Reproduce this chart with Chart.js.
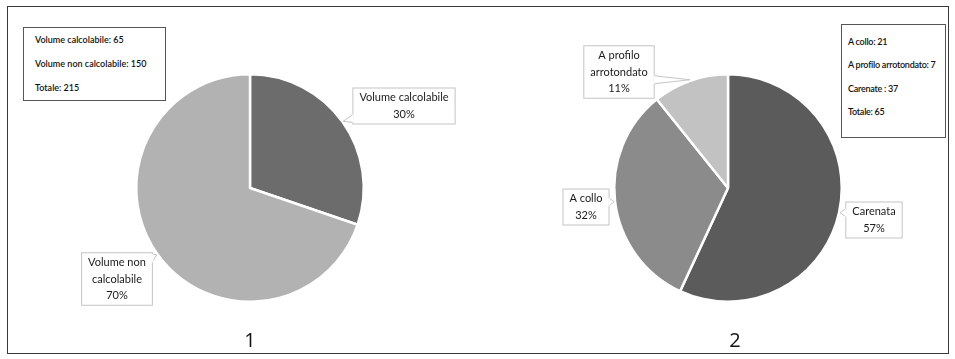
<!DOCTYPE html>
<html><head><meta charset="utf-8">
<script src="https://cdn.jsdelivr.net/npm/chart.js@4/dist/chart.umd.min.js"></script>
<style>
html,body{margin:0;padding:0;background:#fff;}
#wrap{position:relative;width:955px;height:359px;overflow:hidden;font-family:Lato,"Open Sans",sans-serif;}
#frame{position:absolute;left:7px;top:6px;width:940px;height:346px;border:1.5px solid #3a3a3a;}
canvas{position:absolute;left:0;top:0;}
.info{position:absolute;border:1.5px solid #555;background:#fff;font-size:9px;color:#111;font-weight:600;}
.info div{position:absolute;left:11px;white-space:nowrap;}
#info2 div{left:6px;letter-spacing:-0.25px;}
.num{position:absolute;font-size:20px;color:#111;transform:translateX(-50%);top:326px;font-family:"Open Sans",Lato,sans-serif;}
</style></head>
<body><div id="wrap">
<div id="frame"></div>
<canvas id="c1" width="955" height="359"></canvas>
<canvas id="c2" width="955" height="359"></canvas>
<div class="info" id="info1" style="left:23px;top:27px;width:141px;height:72px;"></div>
<div class="info" id="info2" style="left:841px;top:24px;width:103px;height:112px;"></div>
<div class="num" style="left:250px;">1</div>
<div class="num" style="left:735px;">2</div>
</div>
<script>
// ---- data ----
const categories1 = ["Volume calcolabile", "Volume non calcolabile"];
const labelLines1 = ["Volume calcolabile", "Volume non\ncalcolabile"];
const values1 = [65, 150];
const colors1 = ["#6c6c6c", "#b2b2b2"];

const categories2 = ["Carenata", "A collo", "A profilo arrotondato"];
const labelLines2 = ["Carenata", "A collo", "A profilo\narrotondato"];
const values2 = [37, 21, 7];
const colors2 = ["#5b5b5b", "#8b8b8b", "#c2c2c2"];

const summaryLabels1 = ["Volume calcolabile", "Volume non calcolabile"];
const summaryValues1 = [65, 150];
const summaryLabels2 = ["A collo", "A profilo arrotondato", "Carenate "];
const summaryValues2 = [21, 7, 37];
const totalLabel = "Totale";

// ---- info boxes ----
function fillInfo(id, labels, vals, spacing, top0){
  const el = document.getElementById(id);
  const rows = labels.map((l,i)=> l + ": " + vals[i]);
  rows.push(totalLabel + ": " + vals.reduce((a,b)=>a+b,0));
  rows.forEach((r,i)=>{
    const d = document.createElement('div');
    d.textContent = r; d.style.top = (top0 + i*spacing) + 'px';
    el.appendChild(d);
  });
}
fillInfo('info1', summaryLabels1, summaryValues1, 24, 6);
fillInfo('info2', summaryLabels2, summaryValues2, 23.3, 11);

// ---- callout plugin ----
const calloutPlugin = {
  id: 'callouts',
  afterDatasetsDraw(chart, args, opts){
    const ctx = chart.ctx;
    const meta = chart.getDatasetMeta(0);
    const data = chart.data.datasets[0].data;
    const total = data.reduce((a,b)=>a+b,0);
    ctx.save();
    ctx.font = '11px Lato, "Open Sans", sans-serif';
    meta.data.forEach((arc, i)=>{
      const {x, y, startAngle, endAngle, outerRadius} = arc.getProps(['x','y','startAngle','endAngle','outerRadius'], true);
      const mid = (startAngle + endAngle)/2;
      const tipX = x + Math.cos(mid)*(outerRadius+1);
      const tipY = y + Math.sin(mid)*(outerRadius+1);
      const lines = opts.lines[i].split('\n');
      lines.push(Math.round(data[i]/total*100) + '%');
      const tw = Math.max(...lines.map(l=>ctx.measureText(l).width));
      const lh = 16.5;
      const w = tw + 14, h = lines.length*lh + 4;
      const off = opts.offsets[i];
      const cx = x + off[0], cy = y + off[1];
      const bx = cx - w/2, by = cy - h/2;
      ctx.fillStyle = '#fff';
      ctx.strokeStyle = '#c4c4c4';
      ctx.lineWidth = 1;
      ctx.fillRect(bx, by, w, h);
      ctx.strokeRect(bx+0.5, by+0.5, w-1, h-1);
      let b1, b2;
      const half = 4;
      if (tipX < bx) { const py = Math.min(Math.max(tipY, by+half+2), by+h-half-2); b1=[bx+0.5, py-half]; b2=[bx+0.5, py+half]; }
      else if (tipX > bx+w) { const py = Math.min(Math.max(tipY, by+half+2), by+h-half-2); b1=[bx+w-0.5, py-half]; b2=[bx+w-0.5, py+half]; }
      else if (tipY < by) { const px = Math.min(Math.max(tipX, bx+half+2), bx+w-half-2); b1=[px-half, by+0.5]; b2=[px+half, by+0.5]; }
      else { const px = Math.min(Math.max(tipX, bx+half+2), bx+w-half-2); b1=[px-half, by+h-0.5]; b2=[px+half, by+h-0.5]; }
      ctx.beginPath(); ctx.moveTo(b1[0],b1[1]); ctx.lineTo(tipX,tipY); ctx.lineTo(b2[0],b2[1]); ctx.closePath();
      ctx.fill();
      ctx.beginPath(); ctx.moveTo(b1[0],b1[1]); ctx.lineTo(tipX,tipY); ctx.lineTo(b2[0],b2[1]); ctx.stroke();
      ctx.strokeStyle = '#fff'; ctx.lineWidth = 1.5;
      ctx.beginPath(); ctx.moveTo(b1[0],b1[1]); ctx.lineTo(b2[0],b2[1]); ctx.stroke();
      ctx.fillStyle = '#1a1a1a';
      ctx.textAlign = 'center'; ctx.textBaseline = 'middle';
      lines.forEach((l, k)=>{
        ctx.fillText(l, cx, by + 2 + lh*(k+0.5));
      });
    });
    ctx.restore();
  }
};

function makePie(id, labels, values, colors, lines, offsets, padding){
  return new Chart(document.getElementById(id), {
    type: 'pie',
    data: { labels, datasets: [{ data: values, backgroundColor: colors, borderColor: '#fff', borderWidth: 2.5 }] },
    options: {
      responsive: false, animation: false,
      layout: { padding },
      plugins: { legend: {display:false}, tooltip: {enabled:false}, callouts: { lines, offsets } }
    },
    plugins: [calloutPlugin]
  });
}

makePie('c1', categories1, values1, colors1, labelLines1,
  [[154, -82], [-133, 91]],
  {left:135, right:590, top:73, bottom:56});
makePie('c2', categories2, values2, colors2, labelLines2,
  [[146, 32], [-142, 19], [-109, -116]],
  {left:613, right:112, top:73, bottom:56});
</script>
</body></html>
